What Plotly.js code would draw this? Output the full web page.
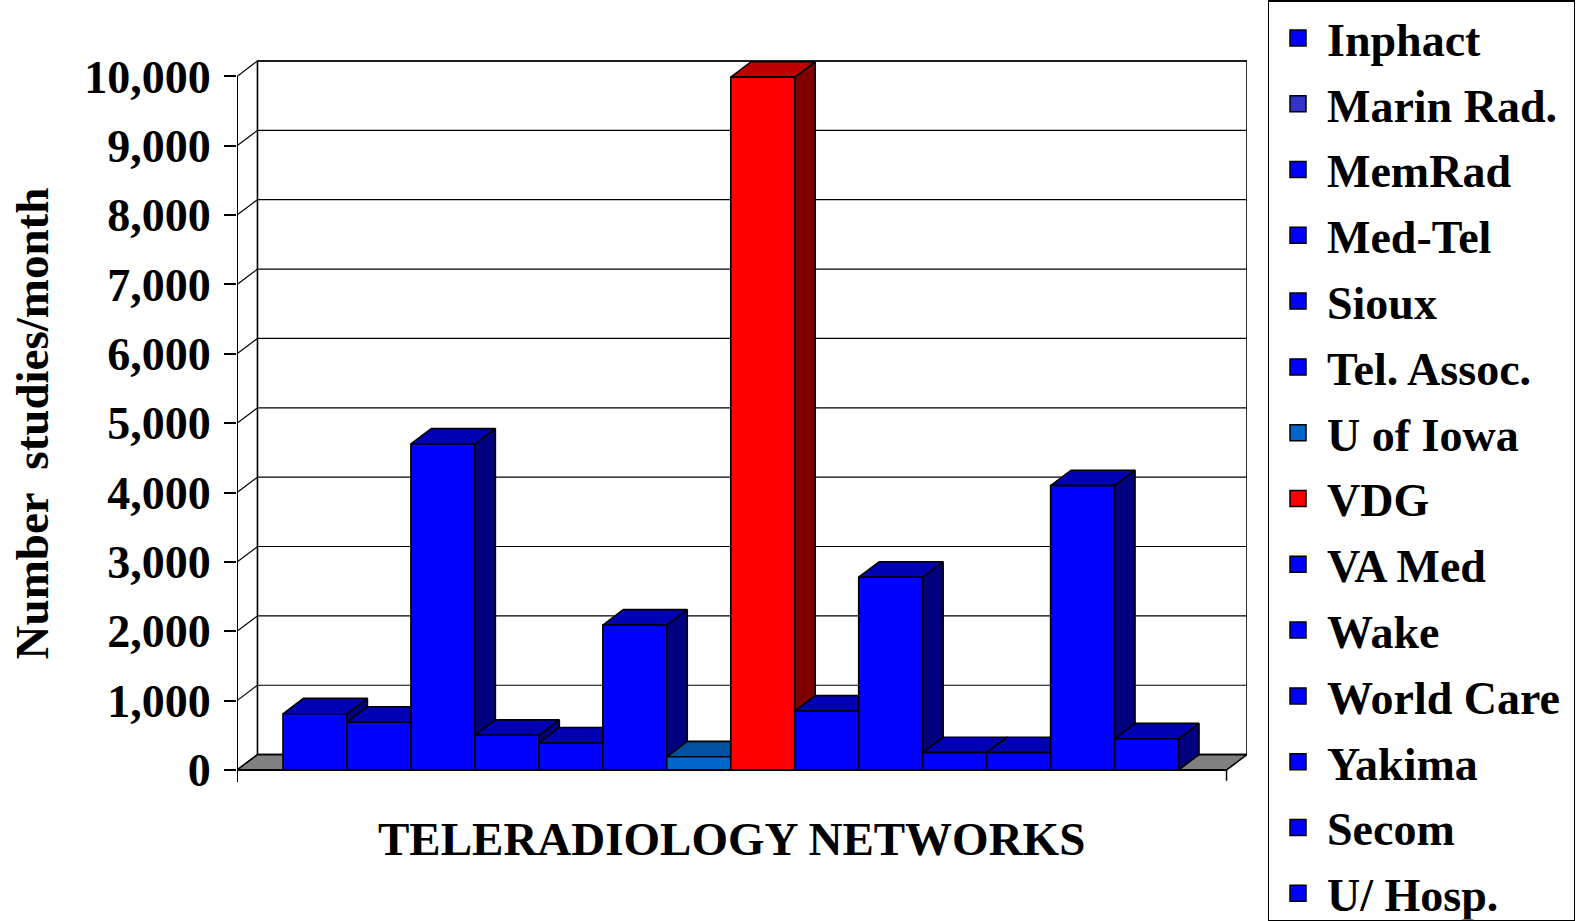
<!DOCTYPE html>
<html>
<head>
<meta charset="utf-8">
<script src="https://cdn.plot.ly/plotly-3.0.1.min.js"></script>
<style>
html,body{margin:0;padding:0;background:#fff;overflow:hidden;}
#chart{width:1580px;height:921px;}
.legend .scrollbar{display:none;}
</style>
</head>
<body>
<div id="chart"></div>
<script>
// ---- data ----
const networks = ['Inphact','Marin Rad.','MemRad','Med-Tel','Sioux','Tel. Assoc.','U of Iowa','VDG','VA Med','Wake','World Care','Yakima','Secom','U/ Hosp.'];
const studiesPerMonth = [810, 690, 4700, 500, 390, 2090, 190, 9990, 850, 2780, 250, 250, 4100, 450];
const yTicks = [0,1000,2000,3000,4000,5000,6000,7000,8000,9000,10000];
const yTitle = 'Number  studies/month';
const xTitle = 'TELERADIOLOGY NETWORKS';

// ---- styles ----
const frontColors  = ['#0000ff','#0000ff','#0000ff','#0000ff','#0000ff','#0000ff','#0066cc','#ff0000','#0000ff','#0000ff','#0000ff','#0000ff','#0000ff','#0000ff'];
const topColors    = ['#0000b4','#0000b4','#0000b4','#0000b4','#0000b4','#0000b4','#00529e','#c00000','#0000b4','#0000b4','#0000b4','#0000b4','#0000b4','#0000b4'];
const sideColors   = ['#000080','#000080','#000080','#000080','#000080','#000080','#000080','#800000','#000080','#000080','#000080','#000080','#000080','#000080'];
const legendColors = ['#0000ff','#3333cc','#0000ff','#0000ff','#0000ff','#0000ff','#0066cc','#ff0000','#0000ff','#0000ff','#0000ff','#0000ff','#0000ff','#0000ff'];

const FONT = 'Liberation Serif, Times New Roman, serif';
// pseudo-3D geometry (axis units)
const XL = -0.21875, XR = 15.25, DX = 0.32, DY = 222, YMAX = 10000;
const H = 921, ZERO_PX = 770, PXU = 693.6 / YMAX;   // vertical pixels per unit
const Y_RANGE = [-(H - ZERO_PX) / PXU, ZERO_PX / PXU];
const edge = {color:'#000', width:1.6};

const traces = [];
networks.forEach((name, k) => {
  const i = k + 1, v = studiesPerMonth[k];
  const a = i - 0.5, b = i + 0.5;
  traces.push({type:'scatter', mode:'lines', fill:'toself', fillcolor:sideColors[k], line:edge,
    x:[b, b+DX, b+DX, b, b], y:[0, DY, v+DY, v, 0], showlegend:false, hoverinfo:'skip'});
  traces.push({type:'scatter', mode:'lines', fill:'toself', fillcolor:topColors[k], line:edge,
    x:[a, b, b+DX, a+DX, a], y:[v, v, v+DY, v+DY, v], showlegend:false, hoverinfo:'skip'});
  traces.push({type:'scatter', mode:'lines', fill:'toself', fillcolor:frontColors[k], line:edge,
    x:[a, b, b, a, a], y:[0, 0, v, v, 0], name:name, showlegend:false,
    hovertemplate:name+': %{text}<extra></extra>', text:[v,v,v,v,v]});
});
networks.forEach((name, k) => {
  traces.push({type:'scatter', mode:'markers', x:[null], y:[null], name:name, legendgroup:'g'+k,
    marker:{symbol:'square', size:16, color:legendColors[k], line:{color:'#000', width:1.5}},
    showlegend:true, hoverinfo:'skip'});
});

const shapes = [];
shapes.push({type:'rect', layer:'below', xref:'x', yref:'y', x0:XL+DX, x1:XR+DX, y0:DY, y1:YMAX+DY,
  fillcolor:'#fff', line:{color:'#000', width:1.6}});
yTicks.forEach(t => {
  shapes.push({type:'line', layer:'below', xref:'x', yref:'y', x0:XL+DX, x1:XR+DX, y0:t+DY, y1:t+DY,
    line:{color:'#000', width:1.2}});
  shapes.push({type:'line', layer:'below', xref:'x', yref:'y', x0:XL, x1:XL+DX, y0:t, y1:t+DY,
    line:{color:'#000', width:1.2}});
});
shapes.push({type:'path', layer:'below', xref:'x', yref:'y',
  path:`M${XL},0 L${XR},0 L${XR+DX},${DY} L${XL+DX},${DY} Z`,
  fillcolor:'#808080', line:{color:'#000', width:1.6}});
const TICK_DOWN = 12 / PXU;
shapes.push({type:'line', layer:'above', xref:'x', yref:'y', x0:XL, x1:XR, y0:0, y1:0, line:{color:'#000', width:2}});
shapes.push({type:'line', layer:'above', xref:'x', yref:'y', x0:XL, x1:XL, y0:-TICK_DOWN, y1:YMAX, line:{color:'#000', width:2}});
shapes.push({type:'line', layer:'above', xref:'x', yref:'y', x0:XR, x1:XR, y0:-TICK_DOWN*0.9, y1:0, line:{color:'#000', width:1.5}});

const layout = {
  width:1580, height:H, autosize:false,
  margin:{l:237, r:333, t:0, b:0, pad:0},
  paper_bgcolor:'#fff', plot_bgcolor:'#fff',
  font:{family:FONT, color:'#000'},
  showlegend:true,
  xaxis:{range:[XL, XR+DX], showgrid:false, zeroline:false, showline:false, showticklabels:false, ticks:'', fixedrange:true},
  yaxis:{range:Y_RANGE, tickvals:yTicks, tickformat:',d', showgrid:false, zeroline:false, showline:false,
    ticks:'outside', ticklen:12, tickwidth:2, tickcolor:'#000', ticklabelstandoff:4,
    tickfont:{family:FONT, size:46, weight:'bold', color:'#000'}, fixedrange:true},
  legend:{x:1.0203, xanchor:'left', y:1 - 5 / H, yanchor:'top', bgcolor:'#fff', bordercolor:'#000', borderwidth:1.5,
    font:{family:FONT, size:46, weight:'bold', color:'#000'}, itemwidth:48, tracegroupgap:3, traceorder:'grouped'},
  annotations:[
    {xref:'x', yref:'y', x:(XL+XR)/2, y:-(839-ZERO_PX)/PXU, text:xTitle, showarrow:false,
      xanchor:'center', yanchor:'middle', font:{family:FONT, size:47, weight:'bold', color:'#000'}},
    {xref:'paper', yref:'y', x:(32-237)/1011, y:YMAX/2, text:yTitle, showarrow:false, textangle:-90,
      xanchor:'center', yanchor:'middle', font:{family:FONT, size:47, weight:'bold', color:'#000'}}
  ],
  shapes:shapes
};

Plotly.newPlot('chart', traces, layout, {displayModeBar:false});
</script>
</body>
</html>
